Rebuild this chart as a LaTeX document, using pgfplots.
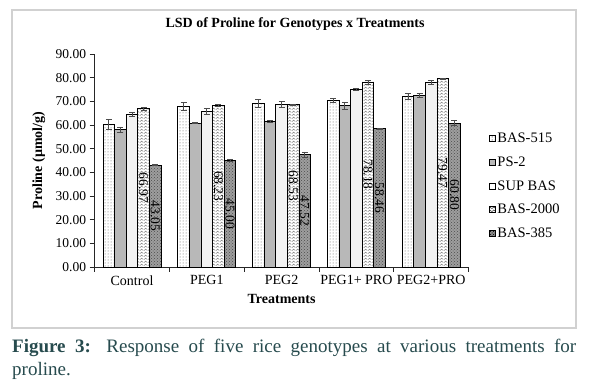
\documentclass[border=0pt]{standalone}
\usepackage{pgfplots}
\usepackage{pgfplotstable}
\pgfplotsset{compat=1.18}
\usepackage{fontspec}
\setmainfont{Liberation Serif}
\usetikzlibrary{patterns,patterns.meta}
\definecolor{capcol}{HTML}{274B4E}
\definecolor{psgray}{HTML}{B8B8B8}
\definecolor{supgray}{HTML}{F2F2F2}

\tikzdeclarepattern{
  name=zigzag,
  type=uncolored,
  bounding box={(0pt,0pt) and (4pt,3pt)},
  tile size={(4pt,3pt)},
  code={\draw[line width=0.5pt] (0pt,0.5pt) -- (2pt,2.5pt) -- (4pt,0.5pt);}
}

\pgfplotstableread{
x v1 e1 v2 e2 v3 e3 v4 e4 v5 e5
0 60.20 2.0 58.00 1.2 64.50 0.7 66.97 0.6 43.05 0.3
1 67.80 1.6 60.80 0.2 65.80 1.1 68.23 0.3 45.00 0.3
2 69.20 1.7 61.60 0.3 68.80 1.2 68.53 0.4 47.52 1.1
3 70.30 0.9 68.10 1.5 75.00 0.3 78.18 0.8 58.46 0.2
4 72.10 1.3 72.40 0.9 77.90 0.9 79.47 0.3 60.80 1.1
}\data

\begin{document}
\begin{tikzpicture}
\useasboundingbox (0,0) rectangle (589pt,383pt);
\fill[white] (0,0) rectangle (589pt,383pt);
\draw[color=black!18, line width=1.8pt] (12pt,55pt) rectangle (576pt,373pt);
\begin{axis}[
  at={(94.6pt,116pt)}, anchor=south west,
  width=374pt, height=213pt, scale only axis,
  xmin=-0.5, xmax=4.5, ymin=0, ymax=90,
  clip=false,
  axis x line*=bottom, axis y line*=left,
  axis line style={-, black!85, line width=0.8pt},
  tick align=outside,
  major tick length=5pt, minor tick length=5pt,
  tick style={black!85, line width=0.8pt},
  xtick={0,1,2,3,4},
  xticklabels={Control,PEG1,PEG2,PEG1+ PRO,PEG2+PRO},
  major x tick style={draw=none},
  minor xtick={-0.5,0.5,1.5,2.5,3.5,4.5},
  ytick={0,10,...,90},
  xticklabel style={font=\fontsize{14}{16}\selectfont},
  yticklabel style={font=\fontsize{13.5}{16}\selectfont},
  /pgf/number format/.cd, fixed, fixed zerofill, precision=2, assume math mode=true, /pgfplots/.cd,
  title={LSD of Proline for Genotypes x Treatments},
  title style={font=\bfseries\fontsize{14}{16}\selectfont, at={(axis description cs:0.536,1.113)}, anchor=center},
  xlabel={Treatments},
  xlabel style={font=\bfseries\fontsize{14}{16}\selectfont, at={(axis description cs:0.5,-0.150)}, anchor=center},
  ylabel={Proline (µmol/g)},
  ylabel style={font=\bfseries\fontsize{14}{16}\selectfont, at={(axis description cs:-0.149,0.5)}, anchor=center, rotate=0},
  ybar, bar width=11.6pt,
  error bars/y dir=both, error bars/y explicit,
  error bars/error bar style={black!70, line width=0.7pt},
  error bars/error mark options={rotate=90, mark size=3pt, line width=0.7pt, black!70},
  legend image code/.code={\draw[#1, line width=0.8pt] (0pt,-3pt) rectangle (6pt,3pt);},
  legend style={at={(axis description cs:1.0545,0.630)}, anchor=north west, draw=none, fill=none,
    font=\fontsize{14.5}{16}\selectfont, row sep=12.6pt, inner sep=0pt,
    nodes={inner xsep=1.5pt, inner ysep=0pt}},
  legend cell align=left,
]
\addplot[forget plot, draw=black, line width=0.9pt, fill=white, postaction={pattern=dots, pattern color=black!65}, bar shift=-23.2pt]
  table[x=x, y=v1, y error=e1] {\data};
\addplot[forget plot, draw=black, line width=0.9pt, fill=psgray, bar shift=-11.6pt]
  table[x=x, y=v2, y error=e2] {\data};
\addplot[forget plot, draw=black, line width=0.9pt, fill=supgray, bar shift=0pt]
  table[x=x, y=v3, y error=e3] {\data};
\addplot[forget plot, draw=black, line width=0.9pt, fill=white, postaction={pattern=zigzag, pattern color=black!55}, bar shift=11.6pt,
  visualization depends on={\thisrow{v4} \as \hval},
  nodes near coords={\pgfmathprintnumber[fixed,fixed zerofill,precision=2]{\pgfplotspointmeta}},
  every node near coord/.append style={font=\fontsize{13.5}{14}\selectfont, text=black, anchor=center, yshift=-\hval*1.18333pt, rotate=-90, inner sep=0pt}]
  table[x=x, y=v4, y error=e4] {\data};
\addplot[forget plot, draw=black, line width=0.9pt, fill=black!38, postaction={pattern=crosshatch dots, pattern color=black!70}, bar shift=23.2pt,
  visualization depends on={\thisrow{v5} \as \hval},
  nodes near coords={\pgfmathprintnumber[fixed,fixed zerofill,precision=2]{\pgfplotspointmeta}},
  every node near coord/.append style={font=\fontsize{13.5}{14}\selectfont, text=black, anchor=center, yshift=-\hval*1.18333pt, rotate=-90, inner sep=0pt}]
  table[x=x, y=v5, y error=e5] {\data};
\addlegendimage{draw=black, fill=white, postaction={pattern=dots, pattern color=black}}
\addlegendentry{BAS-515}
\addlegendimage{draw=black, fill=psgray}
\addlegendentry{PS-2}
\addlegendimage{draw=black, fill=white}
\addlegendentry{SUP BAS}
\addlegendimage{draw=black, fill=white, postaction={pattern=zigzag, pattern color=black}}
\addlegendentry{BAS-2000}
\addlegendimage{draw=black, fill=black!45, postaction={pattern=crosshatch dots, pattern color=black}}
\addlegendentry{BAS-385}
\end{axis}
\node[anchor=north west, text width=564pt, align=justify, inner sep=0pt, text=capcol,
  font=\fontsize{19}{23}\selectfont] at (12pt,44pt)
  {\textbf{Figure 3:} Response of five rice genotypes at various treatments for\linebreak proline.};
\end{tikzpicture}
\end{document}
